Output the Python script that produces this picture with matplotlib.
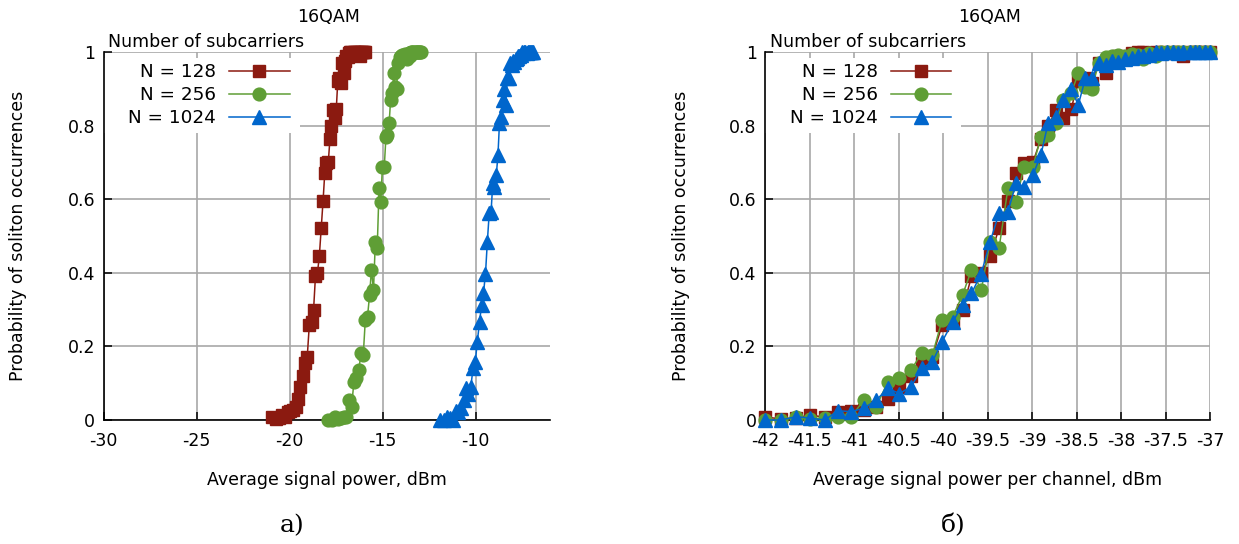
import numpy as np
import matplotlib
matplotlib.use("Agg")
import matplotlib.pyplot as plt
from matplotlib.patches import Rectangle

plt.rcParams["font.family"] = ["DejaVu Sans"]
plt.rcParams["axes.unicode_minus"] = False

# Per-channel launch power sweep, dBm
p_channel = [-42.00, -41.82, -41.65, -41.49, -41.33, -41.18, -41.03, -40.89, -40.75,
             -40.62, -40.49, -40.36, -40.24, -40.12, -40.01, -39.89, -39.78, -39.68,
             -39.57, -39.47, -39.37, -39.27, -39.18, -39.09, -38.99, -38.90, -38.82,
             -38.73, -38.65, -38.56, -38.48, -38.40, -38.33, -38.25, -38.17, -38.10,
             -38.03, -37.95, -37.88, -37.81, -37.75, -37.68, -37.61, -37.55, -37.48,
             -37.42, -37.36, -37.30, -37.23, -37.17, -37.12, -37.06, -37.00]

# Probability of soliton occurrence for each number of subcarriers
prob_128 = [0.008, 0.003, 0.006, 0.013, 0.008, 0.022, 0.025, 0.027, 0.036,
            0.056, 0.090, 0.120, 0.155, 0.172, 0.258, 0.265, 0.300, 0.390,
            0.400, 0.446, 0.521, 0.596, 0.670, 0.698, 0.700, 0.764, 0.800,
            0.842, 0.820, 0.845, 0.920, 0.930, 0.915, 0.970, 0.942, 0.975,
            0.990, 0.987, 0.996, 1.000, 1.000, 0.998, 1.000, 1.000, 0.996,
            1.000, 1.000, 0.990, 1.000, 1.000, 1.000, 1.000, 1.000]
prob_256 = [0.000, 0.000, 0.007, 0.003, 0.005, 0.009, 0.009, 0.054, 0.036,
            0.104, 0.113, 0.136, 0.181, 0.176, 0.272, 0.281, 0.340, 0.408,
            0.353, 0.485, 0.467, 0.630, 0.593, 0.688, 0.688, 0.770, 0.774,
            0.806, 0.870, 0.888, 0.942, 0.906, 0.900, 0.969, 0.987, 0.990,
            0.992, 0.990, 0.995, 0.992, 0.980, 0.996, 0.990, 0.999, 1.000,
            1.000, 1.000, 1.000, 1.000, 1.000, 1.000, 1.000, 1.000]
prob_1024 = [0.000, 0.000, 0.009, 0.005, 0.000, 0.025, 0.023, 0.032, 0.054,
             0.086, 0.072, 0.090, 0.140, 0.158, 0.213, 0.267, 0.313, 0.344,
             0.398, 0.485, 0.562, 0.566, 0.643, 0.634, 0.666, 0.720, 0.806,
             0.824, 0.870, 0.900, 0.856, 0.929, 0.929, 0.969, 0.965, 0.975,
             0.974, 0.980, 0.985, 0.990, 0.990, 0.993, 1.000, 0.996, 1.000,
             1.000, 0.996, 1.000, 1.000, 1.000, 1.000, 1.000, 1.000]

n_subcarriers = [128, 256, 1024]
series_labels = ["N = 128", "N = 256", "N = 1024"]
series_colors = ["#8b1a10", "#5f9e35", "#0066cc"]
series_markers = ["s", "o", "^"]
series_msize = [8.8, 9.2, 9.8]

left_xticks = [-30, -25, -20, -15, -10]
right_xticks = [-42, -41.5, -41, -40.5, -40, -39.5, -39, -38.5, -38, -37.5, -37]
yticks = [0, 0.2, 0.4, 0.6, 0.8, 1]
ytick_labels = ["0", "0.2", "0.4", "0.6", "0.8", "1"]

FS = 12.5
W, H = 1239, 544

fig = plt.figure(figsize=(W / 100, H / 100), dpi=100)
ax_l = fig.add_axes([103.5 / W, 124 / H, 446.5 / W, 368 / H])
ax_r = fig.add_axes([765 / W, 124 / H, 445 / W, 368 / H])


def style(ax, xlim, xticks):
    ax.set_xlim(*xlim)
    ax.set_ylim(0, 1)
    ax.set_xticks(xticks)
    ax.set_xticklabels(["%g" % t for t in xticks])
    ax.set_yticks(yticks)
    ax.set_yticklabels(ytick_labels)
    ax.set_axisbelow(True)
    ax.grid(True, color="#a8a8a8", lw=1.2)
    for side in ("top", "right"):
        ax.spines[side].set_visible(False)
    for side in ("left", "bottom"):
        ax.spines[side].set_linewidth(1.2)
    ax.tick_params(direction="in", length=6, width=1.1, labelsize=FS)
    ax.tick_params(axis="x", pad=9)
    ax.tick_params(axis="y", pad=6)


pc = np.array(p_channel)
probs = [prob_128, prob_256, prob_1024]

handles = []
for n, pr, lab, col, mk, ms in zip(n_subcarriers, probs, series_labels,
                                   series_colors, series_markers, series_msize):
    # total signal power = per-channel power + 10*log10(number of subcarriers)
    total = pc + 10 * np.log10(n)
    kw = dict(color=col, lw=1.1, marker=mk, ms=ms, mec=col, mfc=col,
              clip_on=False, zorder=3)
    h, = ax_l.plot(total, pr, label=lab, **kw)
    ax_r.plot(pc, pr, label=lab, **kw)
    handles.append(h)

style(ax_l, (-30, -6), left_xticks)
style(ax_r, (-42, -37), right_xticks)

for ax, x0 in ((ax_l, 103.5), (ax_r, 765)):
    ax.add_patch(Rectangle((0, 0.78), 196 / 446, 0.204, transform=ax.transAxes,
                           facecolor="white", edgecolor="none", zorder=1))
    ax.legend(handles=handles, loc="upper right", markerfirst=False, frameon=False,
              fontsize=13.2, handlelength=3.3, handletextpad=0.7, labelspacing=0.28,
              borderpad=0.0, borderaxespad=0.0,
              bbox_to_anchor=((x0 + 186) / W, 1 - 63 / H),
              bbox_transform=fig.transFigure)
    fig.text((x0 + 4.5) / W, 1 - 42 / H, "Number of subcarriers", fontsize=FS,
             ha="left", va="center")

# Titles, axis labels and sub-figure captions
fig.text(329 / W, 1 - 17 / H, "16QAM", fontsize=FS, ha="center", va="center")
fig.text(990 / W, 1 - 17 / H, "16QAM", fontsize=FS, ha="center", va="center")
fig.text(327 / W, 1 - 480 / H, "Average signal power, dBm", fontsize=FS,
         ha="center", va="center")
fig.text(988 / W, 1 - 480 / H, "Average signal power per channel, dBm", fontsize=FS,
         ha="center", va="center")
fig.text(18 / W, 1 - 236 / H, "Probability of soliton occurrences", fontsize=FS,
         ha="center", va="center", rotation=90)
fig.text(681 / W, 1 - 236 / H, "Probability of soliton occurrences", fontsize=FS,
         ha="center", va="center", rotation=90)
fig.text(292 / W, 1 - 526 / H, "а)", fontsize=18, family="DejaVu Serif",
         ha="center", va="center")
fig.text(953 / W, 1 - 526 / H, "б)", fontsize=18, family="DejaVu Serif",
         ha="center", va="center")

fig.savefig("out.png", dpi=100)
